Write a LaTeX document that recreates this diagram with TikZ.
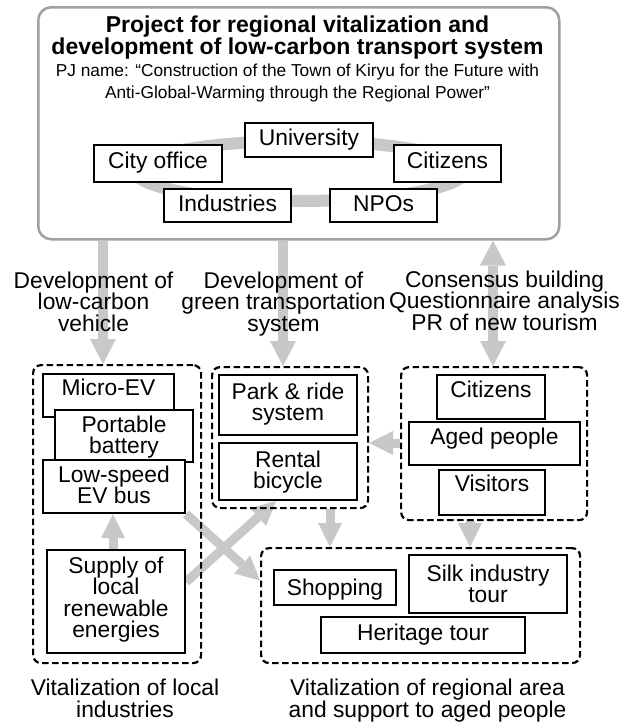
\documentclass[tikz,border=0pt]{standalone}
\usepackage{fontspec}
\setmainfont{Liberation Sans}
\usetikzlibrary{arrows.meta,calc}
\pgfdeclarelayer{bg}
\pgfsetlayers{bg,main}
\definecolor{agray}{RGB}{200,200,200}
\definecolor{ogray}{RGB}{160,160,160}
\newcommand{\ml}[2][21.5pt]{\vtop{\baselineskip=#1\lineskiplimit=-100pt\lineskip=0pt\halign{\hfil##\hfil\cr#2\crcr}}}
\begin{document}
\begin{tikzpicture}[x=1pt,y=-1pt,
  every node/.style={font=\fontsize{22.8pt}{21.5pt}\selectfont},
  box/.style={draw, line width=2pt, fill=white, inner xsep=1pt, inner ysep=0pt, anchor=north west},
  dbox/.style={draw, line width=2.2pt, dash pattern=on 6.5pt off 3.5pt, rounded corners=8pt, inner sep=0pt, anchor=north west},
  lab/.style={inner sep=0pt, anchor=base},
  garrow/.style={draw=agray, line width=10pt, -{Triangle[length=25pt,width=26pt,line width=0pt]}},
  gdarrow/.style={draw=agray, line width=10pt, {Triangle[length=25pt,width=26pt,line width=0pt]}-{Triangle[length=25pt,width=26pt,line width=0pt]}},
  sarrow/.style={draw=agray, line width=9pt, -{Triangle[length=24pt,width=24pt,line width=0pt]}}]
\useasboundingbox (0,0) rectangle (638,723);

% outer project box
\node[draw=ogray, line width=2.5pt, rounded corners=13pt, minimum width=521pt, minimum height=232pt, inner sep=0pt, anchor=north west] (outer) at (37,6) {};
\node[lab, font=\fontsize{23pt}{22pt}\selectfont\bfseries] (title) at (297.5,32)
  {\ml[22pt]{Project for regional vitalization and\cr development of low-carbon transport system}};
\node[lab, font=\fontsize{17.3pt}{22pt}\selectfont] (pj) at (297.5,76)
  {\ml[22pt]{PJ name: “Construction of the Town of Kiryu for the Future with\cr Anti-Global-Warming through the Regional Power”}};

% actors
\node[box, minimum width=128pt, text height=22pt, text depth=12pt] (univ) at (244,122) {University};
\node[box, minimum width=128pt, text height=23pt, text depth=14pt] (city) at (93,144) {City office};
\node[box, minimum width=107pt, text height=23pt, text depth=14pt] (citA) at (393,144) {Citizens};
\node[box, minimum width=127pt, text height=22pt, text depth=11pt] (ind) at (163,188) {Industries};
\node[box, minimum width=107pt, text height=22pt, text depth=11pt] (npo) at (329,188) {NPOs};

% labels of the arrows
\node[lab] (lab1) at (93.5,288) {\ml{Development of\cr low-carbon\cr vehicle}};
\node[lab] (lab2) at (283.5,288) {\ml{Development of\cr green transportation\cr system}};
\node[lab] (lab3) at (504.5,287) {\ml{Consensus building\cr Questionnaire analysis\cr PR of new tourism}};

% dashed groups
\node[dbox, minimum width=168pt, minimum height=298pt] (ldash) at (32,364) {};
\node[dbox, minimum width=156pt, minimum height=141pt] (mdash) at (211,366) {};
\node[dbox, minimum width=186pt, minimum height=153pt] (rdash) at (400,366) {};
\node[dbox, minimum width=319pt, minimum height=115pt] (bdash) at (260,547) {};

% left group
\node[box, minimum width=131pt, text height=21pt, text depth=22pt] (micro) at (42,373) {Micro-EV};
\node[box, minimum width=138pt, text height=22pt, text depth=30pt] (port) at (54,409) {\ml{Portable\cr battery}};
\node[box, minimum width=142pt, text height=22pt, text depth=31pt] (lows) at (42,459) {\ml{Low-speed\cr EV bus}};
\node[box, minimum width=138pt, text height=23pt, text depth=80pt] (supply) at (46,549) {\ml{Supply of\cr local\cr renewable\cr energies}};

% middle group
\node[box, minimum width=138pt, text height=24pt, text depth=36pt] (park) at (218,374) {\ml{Park \& ride\cr system}};
\node[box, minimum width=138pt, text height=24pt, text depth=33pt] (rental) at (218,442) {\ml{Rental\cr bicycle}};

% right group
\node[box, minimum width=108pt, text height=22pt, text depth=22pt] (citB) at (436,374) {Citizens};
\node[box, minimum width=171pt, text height=22pt, text depth=21pt] (aged) at (408,421) {Aged people};
\node[box, minimum width=106pt, text height=21pt, text depth=24pt] (visit) at (438,469) {Visitors};

% bottom group
\node[box, minimum width=122pt, text height=25pt, text depth=10pt] (shop) at (273,569) {Shopping};
\node[box, minimum width=158pt, text height=26pt, text depth=32pt] (silk) at (408,554) {\ml{Silk industry\cr tour}};
\node[box, minimum width=204pt, text height=23pt, text depth=13pt] (herit) at (320,616) {Heritage tour};

% bottom labels
\node[lab] (lab4) at (125,695) {\ml[22pt]{Vitalization of local\cr industries}};
\node[lab] (lab5) at (427.5,695) {\ml[22pt]{Vitalization of regional area\cr and support to aged people}};

% helper coordinates
\coordinate (xa) at (103,0);
\coordinate (xb) at (283,0);
\coordinate (xc) at (493,0);
\coordinate (xd) at (330,0);
\coordinate (xe) at (470,0);
\coordinate (xu) at (113,0);
\coordinate (yh) at (0,443);

\begin{pgfonlayer}{bg}
  \fill[white] (0,0) rectangle (638,723);
  \draw[agray, line width=12pt] (300,171) ellipse [x radius=165pt, y radius=30pt];
  \draw[garrow] (outer.south -| xa) -- (ldash.north -| xa);
  \draw[garrow] (outer.south -| xb) -- (mdash.north -| xb);
  \draw[gdarrow] (outer.south -| xc) -- (rdash.north -| xc);
  \draw[sarrow] (rdash.west |- yh) -- (mdash.east |- yh);
  \draw[sarrow] (supply.north -| xu) -- (lows.south -| xu);
  \draw[sarrow] ($(supply.north east)+(0,33)$) -- ($(rental.south)+(-12,0)$);
  \draw[sarrow] (lows.south east) -- ($(bdash.west)+(0,-25)$);
  \draw[sarrow] (mdash.south -| xd) -- (bdash.north -| xd);
  \draw[sarrow] (rdash.south -| xe) -- (bdash.north -| xe);
\end{pgfonlayer}
\end{tikzpicture}
\end{document}
